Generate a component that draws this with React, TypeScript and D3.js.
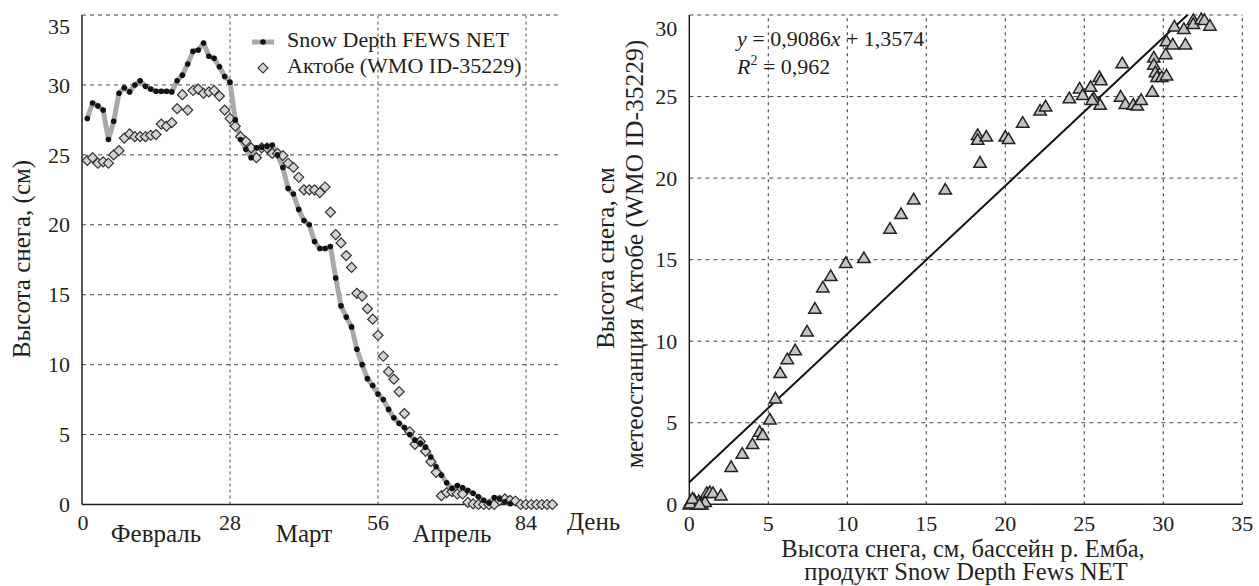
import React, { useRef, useEffect } from 'react';
import * as d3 from 'd3';

// snow depth by day (day 1 = 1 Feb), cm
const fewsDepth = [
  27.6, 28.7, 28.5, 28.2, 26.1, 27.4, 29.4, 29.8, 29.5, 30.0,
  30.3, 29.9, 29.7, 29.55, 29.55, 29.55, 29.5, 30.3, 30.7, 31.5,
  32.4, 32.5, 33.0, 32.05, 31.9, 31.3, 30.6, 30.2, 27.5, 26.1,
  25.4, 24.8, 25.5, 25.55, 25.6, 25.7, 25.0, 24.1, 22.6, 22.2,
  21.1, 20.3, 20.0, 18.8, 18.3, 18.3, 18.45, 16.2, 14.2, 13.4,
  12.7, 11.1, 10.0, 9.0, 8.5, 7.9, 7.5, 6.8, 6.2, 5.8,
  5.5, 5.0, 4.6, 4.4, 4.1, 3.4, 2.7, 2.1, 1.55, 1.15,
  1.35, 1.2, 1.0, 0.8, 0.55, 0.3, 0.1, 0.5, 0.4, 0.2,
  0.05,
];

const aktobeDepth = [
  24.6, 24.8, 24.4, 24.5, 24.4, 25.0, 25.3, 26.2, 26.5, 26.3,
  26.3, 26.3, 26.4, 26.45, 27.2, 27.05, 27.3, 28.3, 29.3, 28.2,
  29.6, 29.7, 29.4, 29.5, 29.6, 29.2, 28.2, 27.6, 27.05, 26.3,
  25.97, 25.5, 24.8, 25.5, 25.5, 25.1, 25.1, 24.95, 24.4, 24.1,
  23.4, 22.5, 22.5, 22.5, 22.3, 22.7, 20.9, 19.3, 18.7, 17.8,
  16.95, 15.1, 14.9, 14.0, 13.25, 12.1, 10.6, 9.5, 8.96, 8.07,
  6.5, 5.2, 4.3, 4.5, 3.8, 3.06, 2.3, 0.63, 0.85, 0.92,
  0.75, 0.75, 0.15, 0.04, 0, 0, 0, 0, 0.3, 0.4,
  0.3, 0.25, 0, 0, 0, 0, 0, 0, 0,
];

const dayTicks = [0, 28, 56, 84];
const monthNames = ['Февраль', 'Март', 'Апрель'];
const monthMidDays = [14, 42, 70];
const leftDepthTicks = [0, 5, 10, 15, 20, 25, 30, 35];

// scatter: FEWS NET (x) vs Aktobe station (y)
const scatterFews = [
  0, 0.1, 0.25, 0.3, 0.45, 0.6, 0.8, 1.0, 0.05, 1.1, 1.3, 1.5, 2.0, 0.2, 0.65,
  2.65, 3.35, 4.0, 4.45, 4.65, 5.1, 5.45, 5.75, 6.2, 6.7, 7.45, 7.95, 8.45, 8.95, 9.9,
  11.05, 12.7, 13.4, 14.2, 16.2, 18.25, 18.25, 18.8, 18.4, 20.0, 20.2, 21.1, 22.2, 22.55, 24.05,
  24.7, 24.9, 25.4, 25.6, 25.95, 26.05, 26.0, 25.5, 27.4, 27.3, 27.6, 28.1, 28.35, 28.6, 29.3,
  29.4, 29.4, 29.5, 29.6, 29.9, 30.2, 30.15, 30.2, 30.6, 31.4, 30.7, 31.3, 31.9, 31.9, 32.4,
  32.6, 32.95,
];
const scatterAktobe = [
  0, 0.2, 0.1, 0.3, 0, 0.2, 0, 0.15, 0.05, 0.7, 0.75, 0.7, 0.55, 0.35, 0,
  2.3, 3.1, 3.7, 4.45, 4.25, 5.2, 6.5, 8.05, 8.9, 9.45, 10.6, 12.0, 13.3, 14.0, 14.8,
  15.1, 16.9, 17.8, 18.7, 19.3, 22.65, 22.35, 22.55, 20.95, 22.55, 22.4, 23.4, 24.15, 24.4, 24.9,
  25.5, 25.1, 25.6, 24.9, 26.2, 26.0, 24.5, 24.8, 27.05, 25.0, 24.55, 24.5, 24.45, 24.8, 25.3,
  27.4, 26.95, 26.5, 26.2, 26.2, 26.3, 27.6, 28.4, 28.2, 28.2, 29.3, 29.15, 29.7, 29.45, 29.75,
  29.7, 29.35,
];

const fitSlope = 0.9086;
const fitIntercept = 1.3574;
const scatterXTicks = [0, 5, 10, 15, 20, 25, 30, 35];
const scatterYTicks = [0, 5, 10, 15, 20, 25, 30];

const W = 1259;
const H = 586;
const ink = '#231f20';
const serif = 'Liberation Serif, DejaVu Serif, Times New Roman, serif';
const titleSize = 25;

function App() {
  const svgRef = useRef();

  useEffect(() => {
    const svg = d3.select(svgRef.current)
      .attr('font-family', serif)
      .attr('font-size', 22)
      .attr('fill', ink);
    svg.selectAll('*').remove();

    // ---------- left: time series ----------
    const x = d3.scaleLinear([0, 90], [82, 557.7]);
    const y = d3.scaleLinear([0, 35], [504.5, 15]);

    const left = svg.append('g');

    left.selectAll('.hgrid')
      .data(leftDepthTicks.filter(d => d > 0))
      .join('line')
        .attr('x1', x(0)).attr('x2', x(90))
        .attr('y1', d => y(d)).attr('y2', d => y(d))
        .attr('stroke', '#444').attr('stroke-width', 1)
        .attr('stroke-dasharray', '4,4');

    left.selectAll('.vgrid')
      .data(dayTicks.filter(d => d > 0))
      .join('line')
        .attr('x1', d => x(d)).attr('x2', d => x(d))
        .attr('y1', y(0)).attr('y2', y(35))
        .attr('stroke', '#777').attr('stroke-width', 1.3)
        .attr('stroke-dasharray', '3,3');

    left.append('line')
      .attr('x1', x(0)).attr('x2', x(0)).attr('y1', y(0)).attr('y2', y(35))
      .attr('stroke', ink).attr('stroke-width', 1.5);
    left.append('line')
      .attr('x1', x(0)).attr('x2', x(90)).attr('y1', y(0)).attr('y2', y(0))
      .attr('stroke', ink).attr('stroke-width', 1.5);

    left.selectAll('.ytick')
      .data(leftDepthTicks)
      .join('text')
        .attr('x', x(0) - 12)
        .attr('y', d => y(d) + (d === 35 ? 11 : 0))
        .attr('dy', '0.35em')
        .attr('text-anchor', 'end')
        .text(d => d);

    left.selectAll('.xtick')
      .data(dayTicks)
      .join('text')
        .attr('x', d => x(d) + (d === 0 ? 1 : 0))
        .attr('y', 530)
        .attr('text-anchor', 'middle')
        .text(d => d);

    left.selectAll('.month')
      .data(monthNames)
      .join('text')
        .attr('x', (d, i) => x(monthMidDays[i]))
        .attr('y', 542)
        .attr('font-size', 25)
        .attr('text-anchor', 'middle')
        .text(d => d);

    left.append('text')
      .attr('x', 567).attr('y', 530)
      .attr('font-size', 25)
      .text('День');

    left.append('text')
      .attr('transform', 'translate(30,259) rotate(-90)')
      .attr('font-size', titleSize)
      .attr('text-anchor', 'middle')
      .text('Высота снега, (см)');

    const fewsPts = fewsDepth.map((v, i) => [i + 1, v]);
    const aktPts = aktobeDepth.map((v, i) => [i + 1, v]);

    const line = d3.line().x(d => x(d[0])).y(d => y(d[1]));
    left.append('path')
      .attr('d', line(fewsPts))
      .attr('fill', 'none')
      .attr('stroke', '#a9a9a9')
      .attr('stroke-width', 5)
      .attr('stroke-linejoin', 'round');

    const diamond = d3.symbol(d3.symbolSquare, 50);
    left.selectAll('.akt')
      .data(aktPts)
      .join('path')
        .attr('d', diamond)
        .attr('transform', d => `translate(${x(d[0])},${y(d[1])}) rotate(45)`)
        .attr('fill', '#d4d4d4')
        .attr('stroke', '#333')
        .attr('stroke-width', 1.2);

    left.selectAll('.fews')
      .data(fewsPts)
      .join('circle')
        .attr('cx', d => x(d[0]))
        .attr('cy', d => y(d[1]))
        .attr('r', 2.8)
        .attr('fill', '#111');

    // legend
    left.append('line')
      .attr('x1', 252).attr('x2', 274).attr('y1', 42).attr('y2', 42)
      .attr('stroke', '#a9a9a9').attr('stroke-width', 5);
    left.append('circle').attr('cx', 263).attr('cy', 42).attr('r', 2.8).attr('fill', '#111');
    left.append('text').attr('x', 287).attr('y', 47).text('Snow Depth FEWS NET');
    left.append('path')
      .attr('d', diamond)
      .attr('transform', 'translate(263,68) rotate(45)')
      .attr('fill', '#d4d4d4').attr('stroke', '#333').attr('stroke-width', 1.2);
    left.append('text').attr('x', 287).attr('y', 73).text('Актобе (WMO ID-35229)');

    // ---------- right: scatter ----------
    const sx = d3.scaleLinear([0, 35], [689.3, 1242.3]);
    const sy = d3.scaleLinear([0, 30], [504.3, 15]);

    const right = svg.append('g');

    right.selectAll('.hgrid')
      .data(scatterYTicks.filter(d => d > 0))
      .join('line')
        .attr('x1', sx(0)).attr('x2', sx(35))
        .attr('y1', d => sy(d)).attr('y2', d => sy(d))
        .attr('stroke', '#444').attr('stroke-width', 1)
        .attr('stroke-dasharray', '4,4');

    right.selectAll('.vgrid')
      .data(scatterXTicks.filter(d => d > 0))
      .join('line')
        .attr('x1', d => sx(d)).attr('x2', d => sx(d))
        .attr('y1', sy(0)).attr('y2', sy(30))
        .attr('stroke', '#444').attr('stroke-width', 1.1)
        .attr('stroke-dasharray', '3,4');

    right.append('line')
      .attr('x1', sx(0)).attr('x2', sx(0)).attr('y1', sy(0)).attr('y2', sy(30))
      .attr('stroke', ink).attr('stroke-width', 1.5);
    right.append('line')
      .attr('x1', sx(0)).attr('x2', sx(35)).attr('y1', sy(0)).attr('y2', sy(0))
      .attr('stroke', ink).attr('stroke-width', 1.5);

    right.selectAll('.ytick')
      .data(scatterYTicks)
      .join('text')
        .attr('x', sx(0) - 12)
        .attr('y', d => sy(d) + (d === 30 ? 13 : 0))
        .attr('dy', '0.35em')
        .attr('text-anchor', 'end')
        .text(d => d);

    right.selectAll('.xtick')
      .data(scatterXTicks)
      .join('text')
        .attr('x', d => sx(d))
        .attr('y', 531)
        .attr('text-anchor', 'middle')
        .text(d => d);

    right.append('text')
      .attr('transform', 'translate(614,258) rotate(-90)')
      .attr('font-size', titleSize)
      .attr('text-anchor', 'middle')
      .text('Высота снега, см');
    right.append('text')
      .attr('transform', 'translate(643,254) rotate(-90)')
      .attr('font-size', 25.5)
      .attr('text-anchor', 'middle')
      .text('метеостанция Актобе (WMO ID-35229)');

    right.append('text')
      .attr('x', 963).attr('y', 557)
      .attr('font-size', 24.5)
      .attr('text-anchor', 'middle')
      .text('Высота снега, см, бассейн р. Емба,');
    right.append('text')
      .attr('x', 966).attr('y', 580)
      .attr('font-size', 24.5)
      .attr('text-anchor', 'middle')
      .text('продукт Snow Depth Fews NET');

    // trend line
    const xEnd = (30 - fitIntercept) / fitSlope;
    right.append('line')
      .attr('x1', sx(0)).attr('y1', sy(fitIntercept))
      .attr('x2', sx(xEnd)).attr('y2', sy(fitSlope * xEnd + fitIntercept))
      .attr('stroke', '#111').attr('stroke-width', 2);

    const tri = 'M0,-6L6.2,4.6L-6.2,4.6Z';
    right.selectAll('.pt')
      .data(scatterFews.map((v, i) => [v, scatterAktobe[i]]))
      .join('path')
        .attr('d', tri)
        .attr('transform', d => `translate(${sx(d[0])},${sy(d[1])})`)
        .attr('fill', '#c4c4c4')
        .attr('stroke', '#222')
        .attr('stroke-width', 1.5)
        .attr('stroke-linejoin', 'miter');

    const eq = right.append('text').attr('x', 737).attr('y', 46);
    eq.append('tspan').attr('font-style', 'italic').text('y');
    eq.append('tspan').text(' = 0,9086');
    eq.append('tspan').attr('font-style', 'italic').text('x');
    eq.append('tspan').text(' + 1,3574');

    const r2 = right.append('text').attr('x', 737).attr('y', 74);
    r2.append('tspan').attr('font-style', 'italic').text('R');
    r2.append('tspan').attr('font-size', 14).attr('dy', -9).text('2');
    r2.append('tspan').attr('dy', 9).text(' = 0,962');
  }, []);

  return (
    <svg
      ref={svgRef}
      width={W}
      height={H}
      style={{ position: 'absolute', left: 0, top: 0, background: '#fff' }}
    />
  );
}

export default App;
